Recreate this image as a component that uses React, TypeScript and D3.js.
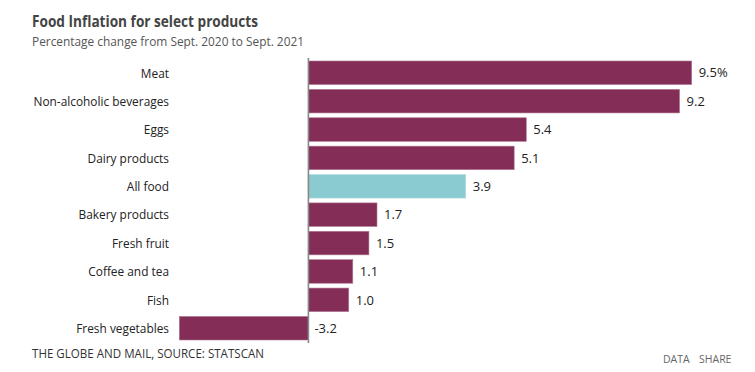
import React from "react";
import * as d3 from "d3";

const categories = [
  "Meat",
  "Non-alcoholic beverages",
  "Eggs",
  "Dairy products",
  "All food",
  "Bakery products",
  "Fresh fruit",
  "Coffee and tea",
  "Fish",
  "Fresh vegetables",
];
const values = [9.5, 9.2, 5.4, 5.1, 3.9, 1.7, 1.5, 1.1, 1.0, -3.2];
const valueLabels = ["9.5%", "9.2", "5.4", "5.1", "3.9", "1.7", "1.5", "1.1", "1.0", "-3.2"];
const highlight = ["All food"];

const W = 755;
const H = 372;
const FONT = "'Open Sans', 'Noto Sans', sans-serif";

export default function App() {
  const x = d3.scaleLinear().domain([-3.2, 9.5]).range([179.3, 691.7]);
  const y = d3
    .scaleBand<string>()
    .domain(categories)
    .range([58.5, 342.5])
    .paddingInner(0.17)
    .paddingOuter(0.088);
  const x0 = x(0);

  return (
    <svg
      width={W}
      height={H}
      style={{ position: "absolute", left: 0, top: 0, background: "#fff" }}
      fontFamily={FONT}
    >
      <text x={32} y={26.5} fontSize={16} fontWeight={700} fill="#444" textLength={226} lengthAdjust="spacingAndGlyphs">
        Food Inflation for select products
      </text>
      <text x={32} y={46} fontSize={13} fill="#555" textLength={272} lengthAdjust="spacingAndGlyphs">
        Percentage change from Sept. 2020 to Sept. 2021
      </text>

      {categories.map((c, i) => {
        const v = values[i];
        const y0 = y(c)!;
        const bw = y.bandwidth();
        const left = Math.min(x(v), x0);
        const width = Math.abs(x(v) - x0);
        const fill = highlight.includes(c) ? "#8ACAD1" : "#842D57";
        const labelX = v >= 0 ? x(v) + 7 : x0 + 6;
        return (
          <g key={c}>
            <rect
              x={left}
              y={y0}
              width={width}
              height={bw}
              fill={fill}
              stroke={highlight.includes(c) ? "#b5dde2" : "#b07a95"}
              strokeWidth={0.6}
            />
            <text
              transform={`translate(169,${y0 + bw / 2}) scale(0.9,1)`}
              dy="0.36em"
              textAnchor="end"
              fontSize={13.2}
              fill="#222"
            >
              {c}
            </text>
            <text x={labelX} y={y0 + bw / 2} dy="0.36em" fontSize={13} fill="#222">
              {valueLabels[i]}
            </text>
          </g>
        );
      })}

      <line x1={x0} x2={x0} y1={58} y2={343} stroke="#888" strokeWidth={1.6} />

      <text x={32} y={358} fontSize={12.5} fill="#333" textLength={232} lengthAdjust="spacingAndGlyphs">
        THE GLOBE AND MAIL, SOURCE: STATSCAN
      </text>
      <text x={663} y={363} fontSize={10.5} fill="#666">
        DATA
      </text>
      <text x={699} y={363} fontSize={10.5} fill="#666">
        SHARE
      </text>
    </svg>
  );
}
